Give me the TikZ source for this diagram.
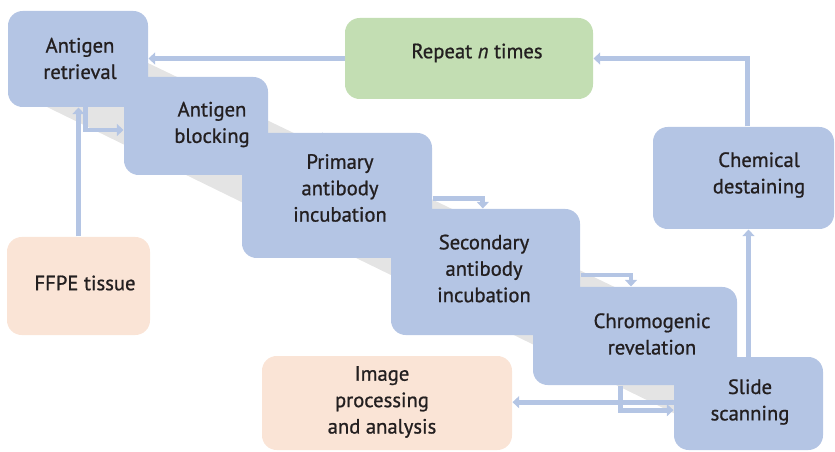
\documentclass[tikz,border=0pt]{standalone}
\usepackage{fontspec}
\setmainfont{PT Sans}[FakeBold=0.9]
\usetikzlibrary{arrows.meta}
\definecolor{boxblue}{RGB}{180,197,228}
\definecolor{boxgreen}{RGB}{195,222,179}
\definecolor{boxpeach}{RGB}{250,228,214}
\definecolor{inkdark}{RGB}{35,31,32}
\definecolor{shadegray}{RGB}{228,228,228}
\tikzset{every picture/.style={line width=0.75pt}}
\tikzset{
  stepbox/.style={rounded corners=11pt, inner sep=0pt, draw=none},
  steptext/.style={inner sep=0pt, align=center, text=inkdark, font=\fontsize{15.5}{19.8}\selectfont},
  flow/.style={draw=boxblue, line width=3.6pt, -{Triangle[width=9pt,length=5pt]}}
}
\begin{document}
\begin{tikzpicture}[x=0.75pt,y=0.75pt,yscale=-1,xscale=1]
      \useasboundingbox (0,0) rectangle (835,452);
      \fill [shadegray] (100,40) -- (700,328) -- (700,426) -- (47,107) -- cycle;

      \node (ret) [stepbox, fill=boxblue, minimum width=140*0.75pt, minimum height=96*0.75pt] at (78,59) {};
      \node (blk) [stepbox, fill=boxblue, minimum width=144*0.75pt, minimum height=98*0.75pt] at (196,126) {};
      \node (pri) [stepbox, fill=boxblue, minimum width=190*0.75pt, minimum height=125*0.75pt] at (337,195.5) {};
      \node (sec) [stepbox, fill=boxblue, minimum width=189*0.75pt, minimum height=126*0.75pt] at (485.5,272) {};
      \node (chr) [stepbox, fill=boxblue, minimum width=204*0.75pt, minimum height=98*0.75pt] at (635,336) {};
      \node (scn) [stepbox, fill=boxblue, minimum width=149*0.75pt, minimum height=93*0.75pt] at (748.5,403.5) {};
      \node (chm) [stepbox, fill=boxblue, minimum width=181*0.75pt, minimum height=102*0.75pt] at (743.5,178) {};
      \node (rep) [stepbox, fill=boxgreen, minimum width=248*0.75pt, minimum height=81*0.75pt] at (469,58.5) {};
      \node (img) [stepbox, fill=boxpeach, minimum width=250*0.75pt, minimum height=94*0.75pt] at (387,403) {};
      \node (ffpe) [stepbox, fill=boxpeach, minimum width=143*0.75pt, minimum height=98*0.75pt] at (78.5,286) {};

      \node (retlbl) [steptext] at (80,58.5) {Antigen\\retrieval};
      \node (blklbl) [steptext] at (212,124.5) {Antigen\\blocking};
      \node (prilbl) [steptext] at (340,188) {Primary\\antibody\\incubation};
      \node (seclbl) [steptext] at (484,268.5) {Secondary\\antibody\\incubation};
      \node (chrlbl) [steptext] at (652,334) {Chromogenic\\revelation};
      \node (scnlbl) [steptext] at (750,402) {Slide\\scanning};
      \node (chmlbl) [steptext] at (759,175) {Chemical\\destaining};
      \node (replbl) [steptext] at (477,53) {Repeat \textit{n} times};
      \node (imglbl) [steptext] at (382,402) {Image\\processing\\and analysis};
      \node (ffpelbl) [steptext] at (85,283) {FFPE tissue};

      \draw [flow] (ffpe.north) -- (ffpe.north |- ret.south);
      \draw [flow] ([xshift=5.5pt]ret.south) |- ([yshift=3pt]blk.west);
      \draw [flow] ([yshift=8pt]blk.east) -| ([xshift=-11pt]pri.north);
      \draw [flow] ([yshift=2pt]pri.east) -| ([xshift=-2pt]sec.north);
      \draw [flow] ([yshift=2.2pt]sec.east) -| ([xshift=-3pt]chr.north);
      \draw [flow] ([xshift=-11pt]chr.south) |- ([yshift=5pt]scn.west);
      \draw [flow] ([yshift=-1pt]scn.west) -- ([yshift=-1pt]scn.west -| img.east);
      \draw [flow] (scn.north) -- (scn.north |- chm.south);
      \draw [flow] ([xshift=3pt]chm.north) |- (rep.east);
      \draw [flow] (rep.west) -- (rep.west -| ret.east);
\end{tikzpicture}
\end{document}
